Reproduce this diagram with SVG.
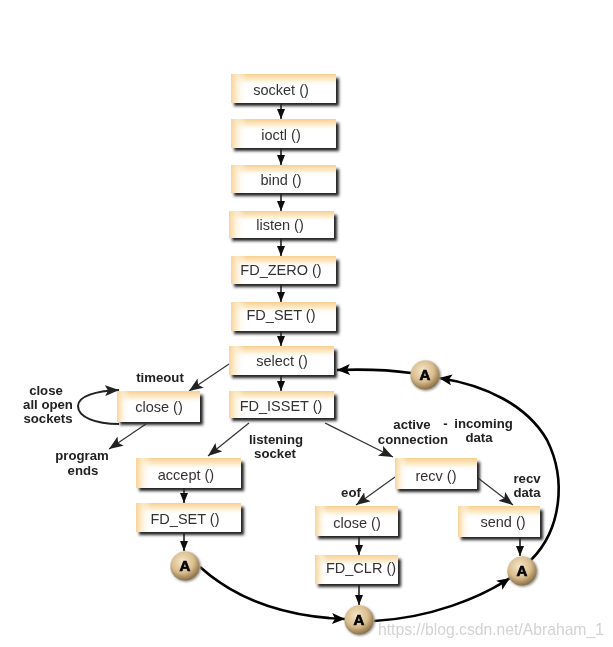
<svg xmlns="http://www.w3.org/2000/svg" width="613" height="647" viewBox="0 0 613 647">
<defs>
<linearGradient id="gt" x1="0" y1="0" x2="0" y2="1"><stop offset="0" stop-color="#f8cf8e"/><stop offset="0.22" stop-color="#fdeccd" stop-opacity="0.9"/><stop offset="0.4" stop-color="#fff" stop-opacity="0"/></linearGradient>
<linearGradient id="gl" x1="0" y1="0" x2="1" y2="0"><stop offset="0" stop-color="#f9d296"/><stop offset="0.06" stop-color="#fdeccd" stop-opacity="0.8"/><stop offset="0.15" stop-color="#fff" stop-opacity="0"/></linearGradient>
<radialGradient id="ga" cx="0.42" cy="0.35" r="0.7"><stop offset="0" stop-color="#f6e7cb"/><stop offset="0.55" stop-color="#d9bd8d"/><stop offset="1" stop-color="#7d6238"/></radialGradient>
<filter id="sh" x="-15%" y="-30%" width="130%" height="170%"><feGaussianBlur stdDeviation="1.4"/></filter>
<filter id="sa" x="-30%" y="-30%" width="160%" height="160%"><feGaussianBlur stdDeviation="1.2"/></filter>
<filter id="soft" x="0" y="0" width="100%" height="100%"><feGaussianBlur stdDeviation="0.4"/></filter>
<marker id="ah" markerUnits="userSpaceOnUse" markerWidth="15" markerHeight="11" refX="14" refY="5.5" orient="auto"><path d="M0 0L14 5.5L0 11L3 5.5Z" fill="#222"/></marker>
<marker id="av" markerUnits="userSpaceOnUse" markerWidth="11" markerHeight="8" refX="10" refY="4" orient="auto"><path d="M0 0L10 4L0 8Z" fill="#111"/></marker>
<marker id="ahb" markerUnits="userSpaceOnUse" markerWidth="14" markerHeight="11" refX="13" refY="5.5" orient="auto"><path d="M0 0L13 5.5L0 11L3 5.5Z" fill="#000"/></marker>
</defs>
<style>
.s{fill:#222;filter:url(#sh)}
.w{fill:#fff}
.t{fill:url(#gt)}
.l{fill:url(#gl)}
text{font-family:"Liberation Sans",Arial,sans-serif}
.n{font-size:14.5px;fill:#333;text-anchor:middle}
.b{font-size:13.2px;font-weight:bold;fill:#222;text-anchor:middle}
.c{fill:none;stroke:#333;stroke-width:1.2;marker-end:url(#ah)}
.v{fill:none;stroke:#111;stroke-width:1.5;marker-end:url(#av)}
.k{fill:none;stroke:#222;stroke-width:2;marker-end:url(#ah)}
.h{fill:none;stroke:#000;stroke-width:2.6;marker-end:url(#ahb)}
.as{fill:#999;filter:url(#sa)}
.ac{fill:url(#ga)}
.at{font-size:15px;font-weight:900;fill:#000;text-anchor:middle;stroke:#000;stroke-width:.7}
.wm{font-size:15.7px;fill:#d3d3d3}
</style>
<rect width="613" height="647" fill="#fff"/>
<g filter="url(#soft)">
<g id="connectors">
<path class="v" d="M281 103V119"/>
<path class="v" d="M281 148V165"/>
<path class="v" d="M281 193V211"/>
<path class="v" d="M281 238V256"/>
<path class="v" d="M281 284V302"/>
<path class="v" d="M281 331V346"/>
<path class="v" d="M281 375V391"/>
<path class="c" d="M229 364L189 391"/>
<path class="c" d="M146 424L109 449"/>
<path class="c" d="M249 423L208 456"/>
<path class="c" d="M325 423L393 457"/>
<path class="c" d="M395 477L356 505"/>
<path class="c" d="M478 478L513 505"/>
<path class="v" d="M184 488V503"/>
<path class="v" d="M184 533V551"/>
<path class="v" d="M359 536V555"/>
<path class="v" d="M359 585V605"/>
<path class="v" d="M520 538V556"/>
<path class="k" d="M119 424C95 424 78 417 78 406C78 396 96 391 119 390"/>
<path class="h" d="M200 567C240 603 290 617 345 619"/>
<path class="h" d="M374 621C430 618 480 598 510 578"/>
<path class="h" d="M531 560C561 530 567 480 547 440C527 405 485 385 439 378"/>
<path class="h" d="M411 373C390 370 365 369 337 370"/>
</g>
<g id="n-socket"><rect class="s" x="234" y="78" width="105" height="28"/><rect class="w" x="231" y="74" width="105" height="29"/><rect class="t" x="231" y="74" width="105" height="29"/><rect class="l" x="231" y="74" width="105" height="29"/><text class="n" x="281" y="95">socket ()</text></g>
<g id="n-ioctl"><rect class="s" x="234" y="123" width="105" height="28"/><rect class="w" x="231" y="119" width="105" height="29"/><rect class="t" x="231" y="119" width="105" height="29"/><rect class="l" x="231" y="119" width="105" height="29"/><text class="n" x="281" y="140">ioctl ()</text></g>
<g id="n-bind"><rect class="s" x="234" y="169" width="105" height="27"/><rect class="w" x="231" y="165" width="105" height="28"/><rect class="t" x="231" y="165" width="105" height="28"/><rect class="l" x="231" y="165" width="105" height="28"/><text class="n" x="281" y="185">bind ()</text></g>
<g id="n-listen"><rect class="s" x="232" y="215" width="105" height="26"/><rect class="w" x="229" y="211" width="105" height="27"/><rect class="t" x="229" y="211" width="105" height="27"/><rect class="l" x="229" y="211" width="105" height="27"/><text class="n" x="280" y="230">listen ()</text></g>
<g id="n-fdzero"><rect class="s" x="234" y="260" width="105" height="27"/><rect class="w" x="231" y="256" width="105" height="28"/><rect class="t" x="231" y="256" width="105" height="28"/><rect class="l" x="231" y="256" width="105" height="28"/><text class="n" x="281" y="275">FD_ZERO ()</text></g>
<g id="n-fdset1"><rect class="s" x="234" y="306" width="105" height="28"/><rect class="w" x="231" y="302" width="105" height="29"/><rect class="t" x="231" y="302" width="105" height="29"/><rect class="l" x="231" y="302" width="105" height="29"/><text class="n" x="281" y="320">FD_SET ()</text></g>
<g id="n-select"><rect class="s" x="232" y="350" width="105" height="28"/><rect class="w" x="229" y="346" width="105" height="29"/><rect class="t" x="229" y="346" width="105" height="29"/><rect class="l" x="229" y="346" width="105" height="29"/><text class="n" x="282" y="366">select ()</text></g>
<g id="n-fdisset"><rect class="s" x="232" y="395" width="105" height="26"/><rect class="w" x="229" y="391" width="105" height="27"/><rect class="t" x="229" y="391" width="105" height="27"/><rect class="l" x="229" y="391" width="105" height="27"/><text class="n" x="281" y="411">FD_ISSET ()</text></g>
<g id="n-close1"><rect class="s" x="120" y="395" width="83" height="30"/><rect class="w" x="117" y="391" width="83" height="31"/><rect class="t" x="117" y="391" width="83" height="31"/><rect class="l" x="117" y="391" width="83" height="31"/><text class="n" x="159" y="412">close ()</text></g>
<g id="n-accept"><rect class="s" x="139" y="462" width="105" height="29"/><rect class="w" x="136" y="458" width="105" height="30"/><rect class="t" x="136" y="458" width="105" height="30"/><rect class="l" x="136" y="458" width="105" height="30"/><text class="n" x="186" y="480">accept ()</text></g>
<g id="n-fdset2"><rect class="s" x="139" y="507" width="105" height="28"/><rect class="w" x="136" y="503" width="105" height="29"/><rect class="t" x="136" y="503" width="105" height="29"/><rect class="l" x="136" y="503" width="105" height="29"/><text class="n" x="185" y="524">FD_SET ()</text></g>
<g id="n-close2"><rect class="s" x="318" y="510" width="83" height="29"/><rect class="w" x="315" y="506" width="83" height="30"/><rect class="t" x="315" y="506" width="83" height="30"/><rect class="l" x="315" y="506" width="83" height="30"/><text class="n" x="357" y="528">close ()</text></g>
<g id="n-fdclr"><rect class="s" x="318" y="559" width="83" height="28"/><rect class="w" x="315" y="555" width="83" height="29"/><rect class="t" x="315" y="555" width="83" height="29"/><rect class="l" x="315" y="555" width="83" height="29"/><text class="n" x="361" y="573">FD_CLR ()</text></g>
<g id="n-recv"><rect class="s" x="398" y="462" width="82" height="30"/><rect class="w" x="395" y="458" width="82" height="31"/><rect class="t" x="395" y="458" width="82" height="31"/><rect class="l" x="395" y="458" width="82" height="31"/><text class="n" x="436" y="481">recv ()</text></g>
<g id="n-send"><rect class="s" x="461" y="510" width="82" height="30"/><rect class="w" x="458" y="506" width="82" height="31"/><rect class="t" x="458" y="506" width="82" height="31"/><rect class="l" x="458" y="506" width="82" height="31"/><text class="n" x="503" y="527">send ()</text></g>
<g id="a1"><circle class="as" cx="186" cy="567" r="15"/><circle class="ac" cx="185" cy="566" r="14.5"/><text class="at" x="185" y="571">A</text></g>
<g id="a2"><circle class="as" cx="360" cy="621" r="15"/><circle class="ac" cx="359" cy="620" r="14.5"/><text class="at" x="359" y="625">A</text></g>
<g id="a3"><circle class="as" cx="523" cy="572" r="15"/><circle class="ac" cx="522" cy="571" r="14.5"/><text class="at" x="522" y="576">A</text></g>
<g id="a4"><circle class="as" cx="426" cy="376" r="15"/><circle class="ac" cx="425" cy="375" r="14.5"/><text class="at" x="425" y="380">A</text></g>
<g id="labels">
<text class="b" x="160" y="382">timeout</text>
<text class="b" x="46" y="395">close</text>
<text class="b" x="48" y="409">all open</text>
<text class="b" x="48" y="423">sockets</text>
<text class="b" x="82" y="460">program</text>
<text class="b" x="83" y="474.500">ends</text>
<text class="b" x="412" y="429">active</text>
<text class="b" x="413" y="443.500">connection</text>
<text class="b" x="276" y="444">listening</text>
<text class="b" x="275" y="458">socket</text>
<text class="b" x="478" y="428" word-spacing="3">- incoming</text>
<text class="b" x="479" y="442">data</text>
<text class="b" x="351" y="497">eof</text>
<text class="b" x="527" y="483">recv</text>
<text class="b" x="527" y="497">data</text>
</g>
<text class="wm" x="378" y="635">https://blog.csdn.net/Abraham_1</text>
</g>
</svg>
